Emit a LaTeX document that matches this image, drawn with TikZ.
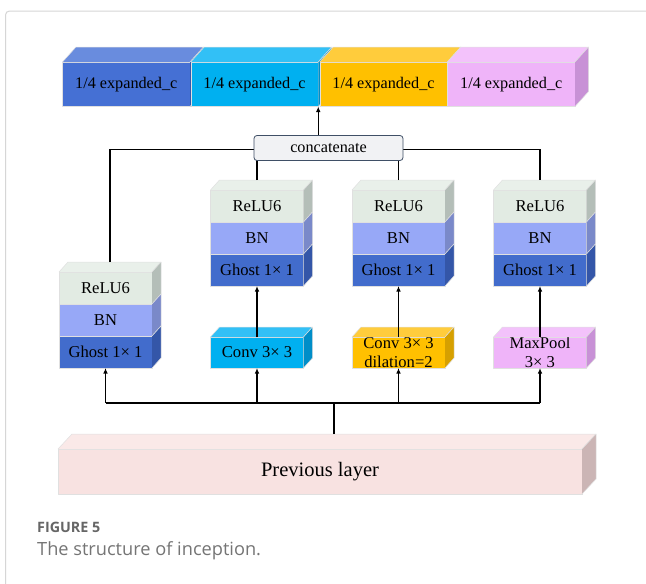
\documentclass[tikz,border=0pt]{standalone}
\usepackage{fontspec}
\setmainfont{Liberation Serif}
\newfontfamily\capfont{Open Sans}
\usetikzlibrary{arrows.meta,calc}

\definecolor{blueF}{RGB}{69,112,212}
\definecolor{blueT}{RGB}{105,140,222}
\definecolor{blueS}{RGB}{52,88,172}
\definecolor{cyanF}{RGB}{0,176,240}
\definecolor{cyanT}{RGB}{50,192,246}
\definecolor{cyanS}{RGB}{0,142,200}
\definecolor{goldF}{RGB}{255,192,0}
\definecolor{goldT}{RGB}{255,204,60}
\definecolor{goldS}{RGB}{214,160,0}
\definecolor{pinkF}{RGB}{239,180,249}
\definecolor{pinkT}{RGB}{243,194,251}
\definecolor{pinkS}{RGB}{200,145,214}
\definecolor{reluF}{RGB}{226,235,227}
\definecolor{reluT}{RGB}{233,240,234}
\definecolor{reluS}{RGB}{180,190,184}
\definecolor{bnF}{RGB}{151,168,247}
\definecolor{bnS}{RGB}{122,137,201}
\definecolor{ghF}{RGB}{66,108,204}
\definecolor{ghS}{RGB}{52,86,168}
\definecolor{prevF}{RGB}{248,226,225}
\definecolor{prevT}{RGB}{250,233,232}
\definecolor{prevS}{RGB}{203,181,181}
\definecolor{concF}{RGB}{241,242,244}
\definecolor{concD}{RGB}{63,79,102}
\definecolor{capgray}{RGB}{102,102,102}
\definecolor{framegray}{RGB}{214,214,214}

\tikzset{
  face/.style={draw=black!12, line width=0.5pt, line join=round},
  blk/.style={face, inner sep=0pt, outer sep=0pt, font=\fontsize{16.6}{19}\selectfont, align=center},
  topblk/.style={blk, minimum width=127.5pt, minimum height=44.5pt, font=\fontsize{16.2}{19}\selectfont},
  band/.style={blk, minimum width=93pt, minimum height=32pt},
  small/.style={blk, minimum width=93pt, minimum height=31pt},
  ln/.style={line width=1.3pt, black},
  arr/.style={line width=1.3pt, black, -{Latex[length=5.5pt,width=4.5pt]}},
}

% #1 node, #2 colour, #3 dx, #4 dy
\newcommand\topface[4]{%
  \fill[#2] (#1.north west) -- ++(#3,#4) -- ([shift={(#3,#4)}]#1.north east) -- (#1.north east) -- cycle;
  \draw[face] (#1.north west) -- ++(#3,#4) -- ([shift={(#3,#4)}]#1.north east) -- (#1.north east);}
\newcommand\sideface[4]{%
  \fill[#2] (#1.north east) -- ++(#3,#4) -- ([shift={(#3,#4)}]#1.south east) -- (#1.south east) -- cycle;
  \draw[face] (#1.north east) -- ++(#3,#4) -- ([shift={(#3,#4)}]#1.south east) -- (#1.south east);}
% #1 prefix, #2 centre x, #3 top y
\newcommand\layerstack[3]{%
  \node[band, fill=reluF] (#1r) at (#2,#3+16) {ReLU6};
  \node[band, fill=bnF] (#1b) at (#2,#3+48) {BN};
  \node[band, fill=ghF] (#1g) at (#2,#3+80) {Ghost 1× 1};
  \topface{#1r}{reluT}{9pt}{10pt}
  \sideface{#1r}{reluS}{9pt}{10pt}
  \sideface{#1b}{bnS}{9pt}{10pt}
  \sideface{#1g}{ghS}{9pt}{10pt}}

\begin{document}
\begin{tikzpicture}[x=1pt,y=-1pt]
\useasboundingbox (0,0) rectangle (646,584);
\fill[white] (0,0) rectangle (646,584);
\draw[framegray, line width=1pt, rounded corners=4pt] (5.5,584) |- (646,11);

% top output blocks
\node[topblk, fill=blueF] (b1) at (126.25,84.25) {1/4 expanded\_c};
\topface{b1}{blueT}{13.5pt}{15pt}
\sideface{b1}{blueS}{13.5pt}{15pt}
\node[topblk, fill=cyanF] (b2) at (254.5,84.25) {1/4 expanded\_c};
\topface{b2}{cyanT}{13.5pt}{15pt}
\sideface{b2}{cyanS}{13.5pt}{15pt}
\node[topblk, fill=goldF] (b3) at (383.5,84.25) {1/4 expanded\_c};
\topface{b3}{goldT}{13.5pt}{15pt}
\sideface{b3}{goldS}{13.5pt}{15pt}
\node[topblk, fill=pinkF] (b4) at (511.25,84.25) {1/4 expanded\_c};
\topface{b4}{pinkT}{13.5pt}{15pt}
\sideface{b4}{pinkS}{13.5pt}{15pt}

% stacks
\layerstack{sA}{105.5}{272}
\layerstack{sB}{257}{190}
\layerstack{sC}{398.5}{190}
\layerstack{sD}{540}{190}

% branch input boxes
\node[small, fill=cyanF] (conv) at (257,352.5) {Conv 3× 3};
\topface{conv}{cyanT}{9pt}{10pt}
\sideface{conv}{cyanS}{9pt}{10pt}
\node[small, fill=goldF] (dil) at (398.5,352.5) {Conv 3× 3\\dilation=2};
\topface{dil}{goldT}{9pt}{10pt}
\sideface{dil}{goldS}{9pt}{10pt}
\node[small, fill=pinkF] (mp) at (540,352.5) {MaxPool\\3× 3};
\topface{mp}{pinkT}{9pt}{10pt}
\sideface{mp}{pinkS}{9pt}{10pt}

% previous layer
\node[blk, fill=prevF, minimum width=524pt, minimum height=45pt, font=\fontsize{20.5}{24}\selectfont] (prev) at (320,471.5) {Previous layer};
\topface{prev}{prevT}{14pt}{15pt}
\sideface{prev}{prevS}{14pt}{15pt}

% coordinates for connector ends
\coordinate (ptop) at ($(prev.north)+(14pt,15pt)$);
\coordinate (split) at (334,403);
\coordinate (lt) at ($(sAr.north)+(4.5pt,10pt)$);
\coordinate (bt) at ($(sBr.north)+(0pt,10pt)$);
\coordinate (ct) at ($(sCr.north)+(0pt,10pt)$);
\coordinate (dt) at ($(sDr.north)+(0pt,10pt)$);

% connectors from previous layer
\draw[ln] (ptop) -- (split);
\draw[ln] (split -| sAg.south) -- (split -| mp.south);
\draw[arr] (split -| sAg.south) -- (sAg.south);
\draw[arr] (split -| conv.south) -- (conv.south);
\draw[arr] (split -| dil.south) -- (dil.south);
\draw[arr] (split -| mp.south) -- (mp.south);

% branch boxes to stacks
\draw[arr] (conv.north) -- (sBg.south);
\draw[arr] (dil.north) -- (sCg.south);
\draw[arr] (mp.north) -- (sDg.south);

% stacks to concatenate
\draw[ln] (lt) |- (dt |- 0,149.5) -- (dt);
\draw[ln] (bt) -- (bt |- 0,150);
\draw[ln] (ct) -- (ct |- 0,150);
\node[draw=concD, fill=concF, line width=0.8pt, rounded corners=3pt, minimum width=149pt, minimum height=25pt, inner sep=0pt, font=\fontsize{16.2}{19}\selectfont] (concat) at (328.5,148) {concatenate};
\draw[arr] (concat.north -| b2.east) -- (b2.south east);

% caption
\node[anchor=base west, inner sep=0pt, font=\capfont\bfseries\fontsize{14.3}{16}\selectfont, text=capgray] (figlabel) at (37,532) {FIGURE 5};
\node[anchor=base west, inner sep=0pt, font=\capfont\fontsize{18.2}{20}\selectfont, text=capgray!90] (figcap) at (37,555) {The structure of inception.};
\end{tikzpicture}
\end{document}
